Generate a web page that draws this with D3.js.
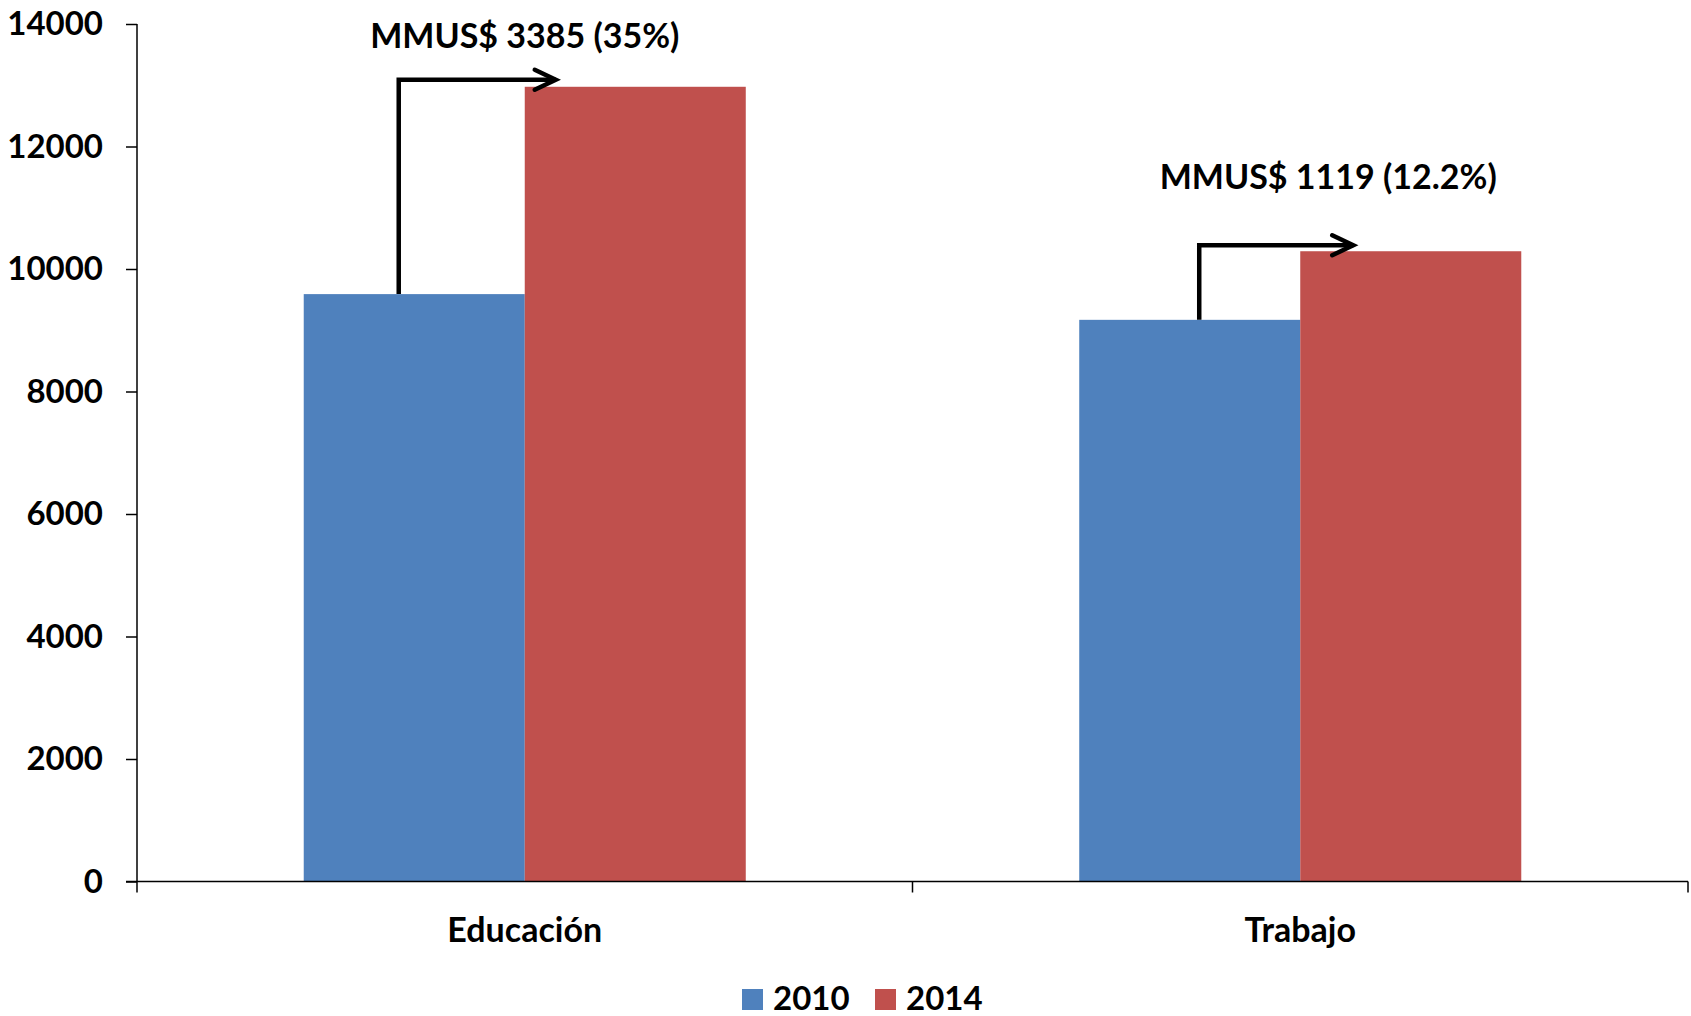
<!DOCTYPE html>
<html>
<head>
<meta charset="utf-8">
<script src="https://cdn.jsdelivr.net/npm/d3@7"></script>
<style>
  body { margin: 0; background: #fff; }
  text { font-family: Lato, "Open Sans", sans-serif; font-weight: bold; fill: #000; }
</style>
</head>
<body>
<svg id="chart" width="1691" height="1016"></svg>
<script>
// Datos
const categories = ["Educación", "Trabajo"];
const years = ["2010", "2014"];
const values2010 = [9590, 9170];
const values2014 = [12975, 10290];
const yTicks = [0, 2000, 4000, 6000, 8000, 10000, 12000, 14000];
const annotationLabels = ["MMUS$ 3385 (35%)", "MMUS$ 1119 (12.2%)"];
const colors = ["#4F81BD", "#C0504D"];

const svg = d3.select("#chart");

// Escalas
const plotLeft = 137, plotRight = 1688, plotTop = 24, plotBottom = 881.5;

const y = d3.scaleLinear().domain([0, 14000]).range([plotBottom, plotTop]);

const x0 = d3.scaleBand()
  .domain(categories)
  .range([plotLeft, plotRight])
  .paddingInner(0.43)
  .paddingOuter(0.215);

const x1 = d3.scaleBand().domain(years).range([0, x0.bandwidth()]);

// Barras
const rows = categories.map((c, i) => ({ cat: c, vals: [values2010[i], values2014[i]] }));

const groups = svg.selectAll("g.cat")
  .data(rows)
  .join("g")
  .attr("class", "cat")
  .attr("transform", (d) => `translate(${x0(d.cat)},0)`);

groups.selectAll("rect")
  .data((d) => d.vals.map((v, j) => ({ year: years[j], v: v, j: j })))
  .join("rect")
  .attr("x", (d) => x1(d.year))
  .attr("y", (d) => y(d.v))
  .attr("width", x1.bandwidth())
  .attr("height", (d) => y(0) - y(d.v))
  .attr("fill", (d) => colors[d.j]);

// Eje Y
const yAxis = d3.axisLeft(y).tickValues(yTicks).tickFormat(d3.format("d")).tickSize(11).tickPadding(23);
const yAxisG = svg.append("g")
  .attr("transform", `translate(${plotLeft},0)`)
  .call(yAxis);
yAxisG.select(".domain").attr("stroke", "#000").attr("stroke-width", 1.5).attr("d", `M0,${plotTop}V${plotBottom}`);
yAxisG.selectAll(".tick line").attr("stroke", "#000").attr("stroke-width", 1.5);
yAxisG.selectAll(".tick text")
  .style("font-family", "Lato, sans-serif")
  .style("font-weight", "bold")
  .style("font-size", "33px")
  .attr("fill", "#000");

// Eje X (marcas en los límites de categoría)
const xAxisG = svg.append("g");
xAxisG.append("line")
  .attr("x1", plotLeft - 11).attr("x2", plotRight)
  .attr("y1", plotBottom).attr("y2", plotBottom)
  .attr("stroke", "#000").attr("stroke-width", 1.5);
const boundaries = d3.range(categories.length + 1).map((i) => plotLeft + i * (plotRight - plotLeft) / categories.length);
xAxisG.selectAll("line.tick")
  .data(boundaries)
  .join("line")
  .attr("class", "tick")
  .attr("x1", (d) => d).attr("x2", (d) => d)
  .attr("y1", plotBottom).attr("y2", plotBottom + 11)
  .attr("stroke", "#000").attr("stroke-width", 1.5);
xAxisG.selectAll("text")
  .data(categories)
  .join("text")
  .attr("x", (d) => x0(d) + x0.bandwidth() / 2)
  .attr("y", plotBottom + 60)
  .attr("text-anchor", "middle")
  .style("font-size", "34px")
  .text((d) => d);

// Anotaciones (flechas de variación)
const annotations = [
  { startDx: 95, tipDx: 31, lift: 7, textDx: 0, textDy: -39 },
  { startDx: 120, tipDx: 53, lift: 6, textDx: 28, textDy: -62 }
];

annotations.forEach((a, i) => {
  const c = categories[i];
  const bx = x0(c) + x1("2010");
  const rx = x0(c) + x1("2014");
  const xs = bx + a.startDx;
  const xt = rx + a.tipDx;
  const yTop = y(values2014[i]) - a.lift;

  svg.append("path")
    .attr("d", `M${xs},${y(values2010[i])}V${yTop}H${xt}`)
    .attr("fill", "none")
    .attr("stroke", "#000")
    .attr("stroke-width", 4.5)
    .attr("stroke-linejoin", "miter");

  svg.append("path")
    .attr("d", `M${xt - 21},${yTop - 10}L${xt},${yTop}L${xt - 21},${yTop + 10}`)
    .attr("fill", "none")
    .attr("stroke", "#000")
    .attr("stroke-width", 4.5)
    .attr("stroke-linecap", "round")
    .attr("stroke-linejoin", "miter");

  svg.append("text")
    .attr("x", x0(c) + x0.bandwidth() / 2 + a.textDx)
    .attr("y", y(values2014[i]) + a.textDy)
    .attr("text-anchor", "middle")
    .style("font-size", "34px")
    .text(annotationLabels[i]);
});

// Leyenda
const legend = svg.append("g").attr("transform", "translate(742,989)");
const legendX = [0, 133];
years.forEach((yr, j) => {
  const g = legend.append("g").attr("transform", `translate(${legendX[j]},0)`);
  g.append("rect").attr("width", 21).attr("height", 21).attr("fill", colors[j]);
  g.append("text")
    .attr("x", 31)
    .attr("y", 21)
    .style("font-size", "33px")
    .text(yr);
});
</script>
</body>
</html>
